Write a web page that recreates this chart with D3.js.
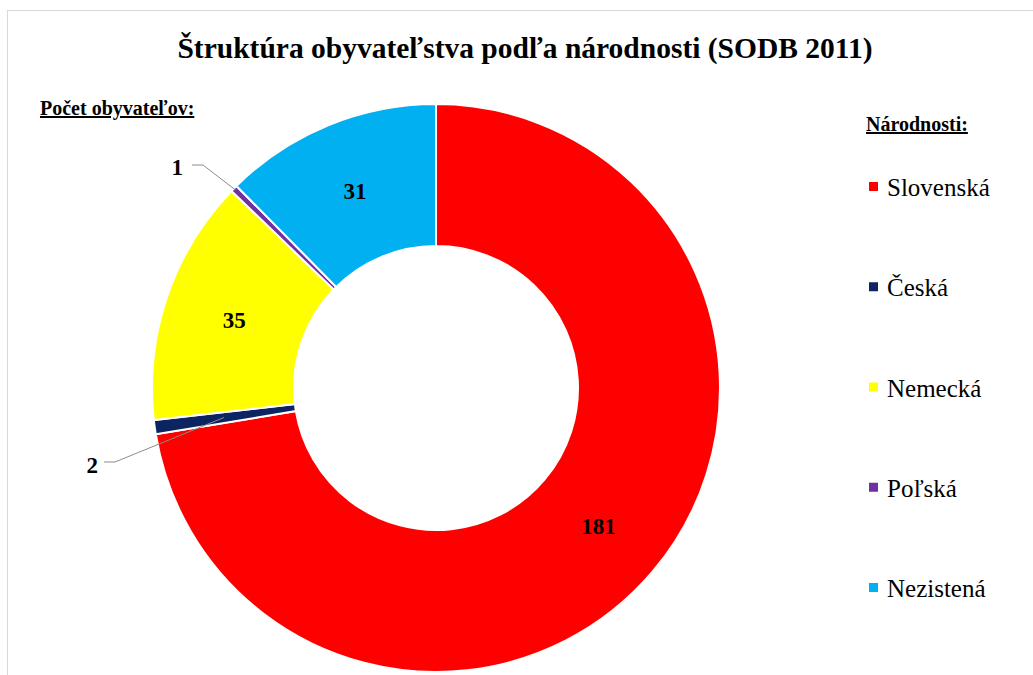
<!DOCTYPE html>
<html>
<head>
    <meta charset="utf-8">
    <title>Štruktúra obyvateľstva</title>
    <style>
        body { margin: 0; background: #fff; }
        text { font-family: "Liberation Serif", "Times New Roman", serif; }
    </style>
</head>
<body>
    <svg class="chart"></svg>
    <script src="https://cdn.jsdelivr.net/npm/d3@7"></script>
    <script>
        const categories = ["Slovenská", "Česká", "Nemecká", "Poľská", "Nezistená"]
        const values = [181, 2, 35, 1, 31]
        const colors = ["#ff0000", "#0c2461", "#ffff00", "#7030a0", "#00b0f0"]

        const width = 1033, height = 675
        const cx = 436, cy = 388
        const outer = 284, inner = 142

        const svg = d3.select(".chart")
            .attr("width", width)
            .attr("height", height)

        // frame
        svg.append("rect")
            .attr("x", 7.5).attr("y", 10.5)
            .attr("width", width + 20).attr("height", height + 20)
            .attr("fill", "none")
            .attr("stroke", "#d9d9d9")

        svg.append("text")
            .attr("x", 525).attr("y", 58)
            .attr("text-anchor", "middle")
            .attr("font-size", 29.5).attr("font-weight", "bold")
            .text("Štruktúra obyvateľstva podľa národnosti (SODB 2011)")

        svg.append("text")
            .attr("x", 40).attr("y", 115)
            .attr("font-size", 20).attr("font-weight", "bold")
            .attr("text-decoration", "underline")
            .text("Počet obyvateľov:")

        const data = categories.map((c, i) => ({ name: c, value: values[i], color: colors[i] }))

        const pie = d3.pie().sort(null).value(d => d.value)
        const arcs = pie(data)
        const arc = d3.arc().innerRadius(inner).outerRadius(outer)

        const g = svg.append("g").attr("transform", `translate(${cx},${cy})`)

        g.selectAll("path")
            .data(arcs)
            .enter()
            .append("path")
            .attr("d", arc)
            .attr("fill", d => d.data.color)
            .attr("stroke", "#fff")
            .attr("stroke-width", 2)

        // labels inside the big slices
        const mid = d3.arc().innerRadius((inner + outer) / 2).outerRadius((inner + outer) / 2)
        g.selectAll("text.inside")
            .data(arcs.filter(d => d.data.value > 10))
            .enter()
            .append("text")
            .attr("class", "inside")
            .attr("x", d => mid.centroid(d)[0])
            .attr("y", d => mid.centroid(d)[1] + 8)
            .attr("text-anchor", "middle")
            .attr("font-size", 23).attr("font-weight", "bold")
            .text(d => d.data.value)

        // leader labels for the small slices
        const point = (a, r) => [r * Math.sin(a), -r * Math.cos(a)]
        const small = [
            { d: arcs[3], r: 282, elbow: [-233, -223], label: [-253, -213] },
            { d: arcs[1], r: 214, elbow: [-321, 74], label: [-338, 85] }
        ]
        small.forEach(s => {
            const a = (s.d.startAngle + s.d.endAngle) / 2
            const p = point(a, s.r)
            g.append("polyline")
                .attr("points", [[s.elbow[0] - 11, s.elbow[1]], s.elbow, p].map(q => q.join(",")).join(" "))
                .attr("fill", "none")
                .attr("stroke", "#8c8c8c")
                .attr("stroke-width", 1)
            g.append("text")
                .attr("x", s.label[0]).attr("y", s.label[1])
                .attr("text-anchor", "end")
                .attr("font-size", 23).attr("font-weight", "bold")
                .text(s.d.data.value)
        })

        // legend
        svg.append("text")
            .attr("x", 866).attr("y", 131)
            .attr("font-size", 20).attr("font-weight", "bold")
            .attr("text-decoration", "underline")
            .text("Národnosti:")

        const legendY = d3.scalePoint().domain(categories).range([187, 588])
        const leg = svg.append("g").selectAll("g")
            .data(data)
            .enter()
            .append("g")
            .attr("transform", d => `translate(869,${legendY(d.name)})`)
        leg.append("rect")
            .attr("x", 0).attr("y", -5)
            .attr("width", 9).attr("height", 9)
            .attr("fill", d => d.color)
        leg.append("text")
            .attr("x", 18).attr("y", 9)
            .attr("font-size", 25)
            .text(d => d.name)
    </script>
</body>
</html>
